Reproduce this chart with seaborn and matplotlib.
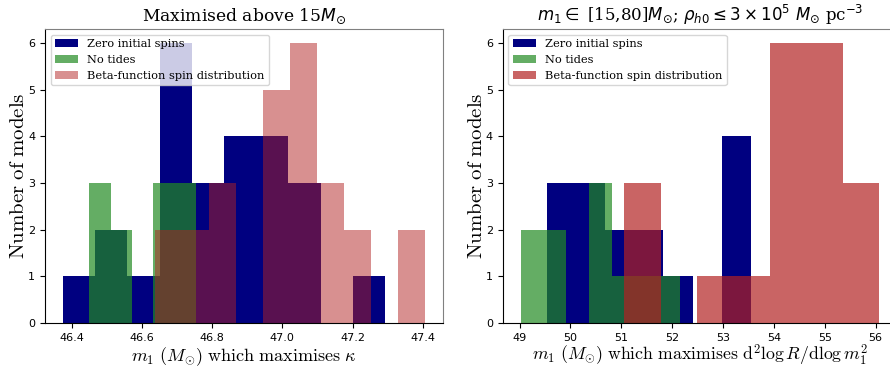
import numpy as np
import pandas as pd
import seaborn as sns
import matplotlib
matplotlib.use("Agg")
import matplotlib.pyplot as plt

# histogram counts per bin, with the bin range of each series
labels = ["Zero initial spins", "No tides", "Beta-function spin distribution"]

# left panel: m1 which maximises kappa
kappa_zero_counts = [1, 2, 1, 6, 3, 4, 4, 3, 0, 1]
kappa_zero_range = (46.376, 47.292)
kappa_notide_counts = [3, 2, 0, 3, 3]
kappa_notide_range = (46.450, 46.755)
kappa_beta_counts = [2, 2, 3, 0, 5, 6, 3, 2, 0, 2]
kappa_beta_range = (46.638, 47.406)

# right panel: m1 which maximises d2 log R / dlog m1^2
curv_zero_counts = [3, 3, 2, 2, 1, 0, 4]
curv_zero_range = (49.538, 53.546)
curv_notide_counts = [2, 2, 0, 3, 1, 1, 1]
curv_notide_range = (49.02, 52.16)
curv_beta_counts = [3, 0, 1, 1, 6, 6, 3]
curv_beta_range = (51.057, 56.067)


def hist(ax, counts, binrange, color, alpha, label):
    nb = len(counts)
    width = (binrange[1] - binrange[0]) / nb
    centers = binrange[0] + width * (np.arange(nb) + 0.5)
    df = pd.DataFrame({"m1": centers, "n": np.array(counts, dtype=float)})
    sns.histplot(data=df, x="m1", weights="n", bins=nb, binrange=binrange,
                 color=color, alpha=alpha, linewidth=0, ax=ax, label=label)


fig = plt.figure(figsize=(8.9, 3.67), dpi=100)
ax1 = fig.add_axes([0.0506, 0.1199, 0.4472, 0.801])
ax2 = fig.add_axes([0.5648, 0.1199, 0.443, 0.801])

hist(ax1, kappa_zero_counts, kappa_zero_range, "navy", 1.0, labels[0])
hist(ax1, kappa_notide_counts, kappa_notide_range, "forestgreen", 0.7, labels[1])
hist(ax1, kappa_beta_counts, kappa_beta_range, "firebrick", 0.5, labels[2])

hist(ax2, curv_zero_counts, curv_zero_range, "navy", 1.0, labels[0])
hist(ax2, curv_notide_counts, curv_notide_range, "forestgreen", 0.7, labels[1])
hist(ax2, curv_beta_counts, curv_beta_range, "firebrick", 0.7, labels[2])

ax1.set_title(r"Maximised above 15$M_{\odot}$", family="DejaVu Serif", fontsize=12.3,
              math_fontfamily="dejavusans")
ax2.set_title(r"$m_1 \in$ [15,80]$M_{\odot}$; $\rho_{h0} \leq 3\times10^5$ $M_{\odot}$ pc$^{-3}$",
              family="DejaVu Serif", fontsize=12, math_fontfamily="dejavusans")

ax1.set_xlabel(r"$m_1\ (M_{\odot})\ \mathrm{which\ maximises}\ \kappa$",
               fontsize=13, math_fontfamily="cm", labelpad=1.5)
ax2.set_xlabel(r"$m_1\ (M_{\odot})\ \mathrm{which\ maximises\ d}^2\mathrm{log}\,R/\mathrm{dlog}\,m_1^2$",
               fontsize=12.8, math_fontfamily="cm", labelpad=0)

for ax in (ax1, ax2):
    ax.set_ylabel(r"$\mathrm{Number\ of\ models}$", fontsize=15, math_fontfamily="cm",
                  labelpad=0)
    ax.set_ylim(0, 6.3)
    ax.tick_params(labelsize=8)
    ax.spines["top"].set_color("grey")
    ax.spines["right"].set_color("grey")
    ax.legend(loc="upper left", prop={"family": "DejaVu Serif", "size": 8.2})

fig.savefig("out.png", dpi=100)
